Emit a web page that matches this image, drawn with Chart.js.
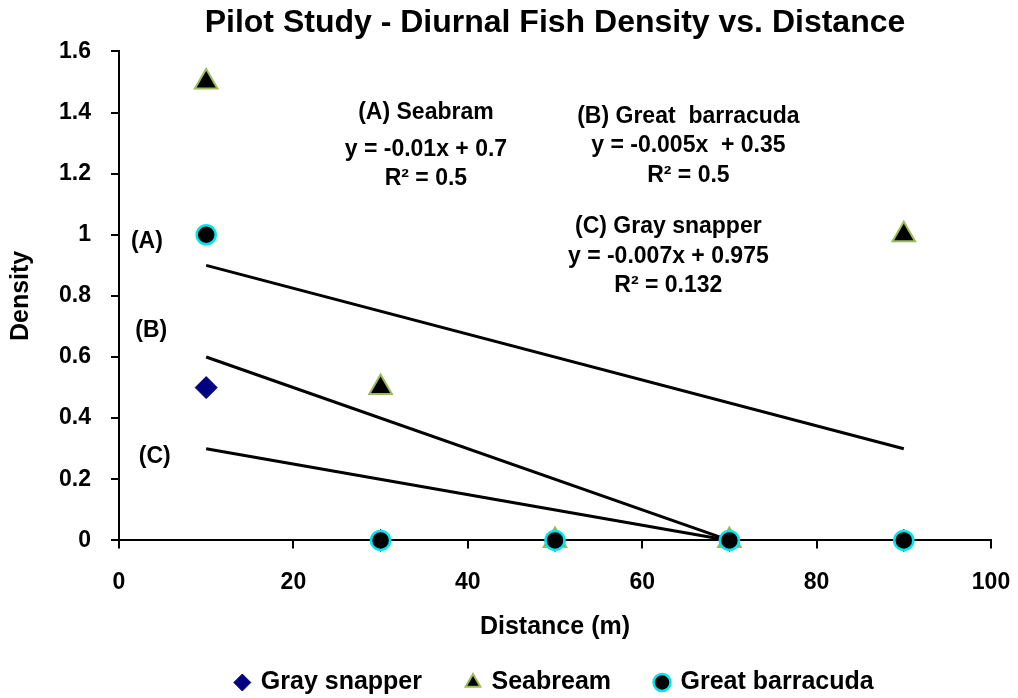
<!DOCTYPE html>
<html>
<head>
<meta charset="utf-8">
<script src="https://cdn.jsdelivr.net/npm/chart.js@4"></script>
<style>
  html, body { margin: 0; padding: 0; background: #fff; }
  #wrap { width: 1018px; height: 698px; }
</style>
</head>
<body>
<div id="wrap"><canvas id="myChart"></canvas></div>
<script>
// series values
const distances = [10, 30, 50, 70, 90];
const graySnapper = [0.5, 0, 0, 0, 0];
const seabream = [1.5, 0.5, 0, 0, 1.0];
const greatBarracuda = [1.0, 0, 0, 0, 0];

// trend lines, as drawn (start and end points)
const trendA = [{x: 10, y: 0.9}, {x: 90, y: 0.3}];
const trendB = [{x: 10, y: 0.6}, {x: 70, y: 0}];
const trendC = [{x: 10, y: 0.3}, {x: 70, y: 0}];

const xTicks = [0, 20, 40, 60, 80, 100];
const yTicks = [0, 0.2, 0.4, 0.6, 0.8, 1, 1.2, 1.4, 1.6];

// text notes placed in data units
const notes = [
    {x: 35.2, y: 1.398, text: "(A) Seabram"},
    {x: 35.2, y: 1.28, text: "y = -0.01x + 0.7"},
    {x: 35.2, y: 1.185, text: "R² = 0.5"},
    {x: 65.3, y: 1.388, text: "(B) Great  barracuda"},
    {x: 65.3, y: 1.29, text: "y = -0.005x  + 0.35"},
    {x: 65.3, y: 1.195, text: "R² = 0.5"},
    {x: 63.0, y: 1.025, text: "(C) Gray snapper"},
    {x: 63.0, y: 0.927, text: "y = -0.007x + 0.975"},
    {x: 63.0, y: 0.833, text: "R² = 0.132"},
    {x: 3.2, y: 0.976, text: "(A)"},
    {x: 3.7, y: 0.686, text: "(B)"},
    {x: 4.1, y: 0.274, text: "(C)"}
];

function toPoints(xs, ys) {
    return xs.map((x, i) => ({x: x, y: ys[i]}));
}

const FONT = "'Liberation Sans', Arial, sans-serif";
const LEGEND_GAP = 45;

const notesPlugin = {
    id: 'notes',
    afterLayout(chart) {
        // center title and legend over the plot area
        const a = chart.chartArea;
        if (chart.titleBlock) { chart.titleBlock.left = a.left; chart.titleBlock.right = a.right; }
        if (chart.legend) {
            chart.legend.left = a.left;
            chart.legend.right = a.right;
            // legend padding is only wanted between items, not above them
            chart.legend.top -= LEGEND_GAP - 13;
        }
    },
    afterDatasetsDraw(chart) {
        const ctx = chart.ctx;
        const xs = chart.scales.x, ys = chart.scales.y;
        ctx.save();
        ctx.font = "bold 23px " + FONT;
        ctx.fillStyle = '#000';
        ctx.textAlign = 'center';
        ctx.textBaseline = 'middle';
        notes.forEach(n => {
            ctx.fillText(n.text, xs.getPixelForValue(n.x), ys.getPixelForValue(n.y));
        });
        ctx.restore();
    }
};

const trendStyle = {
    type: 'line',
    showLine: true,
    borderColor: '#000',
    borderWidth: 3,
    pointRadius: 0,
    fill: false,
    order: 3,
    clip: false
};

var ctx = document.getElementById('myChart').getContext('2d');
var chart = new Chart(ctx, {
    type: 'scatter',
    data: {
        datasets: [{
            label: 'Gray snapper',
            data: toPoints(distances, graySnapper),
            pointStyle: 'rectRot',
            pointRadius: 11,
            backgroundColor: '#000080',
            borderColor: '#000080',
            borderWidth: 1,
            order: 2,
            clip: false
        }, {
            label: 'Seabream',
            data: toPoints(distances, seabream),
            pointStyle: 'triangle',
            pointRadius: 13,
            backgroundColor: '#000',
            borderColor: '#9BBB59',
            borderWidth: 2,
            order: 1,
            clip: false
        }, {
            label: 'Great barracuda',
            data: toPoints(distances, greatBarracuda),
            pointStyle: 'circle',
            pointRadius: 9.5,
            backgroundColor: '#000',
            borderColor: '#00E5EE',
            borderWidth: 2.5,
            order: 0,
            clip: false
        },
        Object.assign({label: 'trendA', data: trendA}, trendStyle),
        Object.assign({label: 'trendB', data: trendB}, trendStyle),
        Object.assign({label: 'trendC', data: trendC}, trendStyle)]
    },
    options: {
        responsive: true,
        maintainAspectRatio: false,
        animation: false,
        layout: { padding: { left: 6, right: 27, top: 1, bottom: 1 } },
        plugins: {
            title: {
                display: true,
                text: 'Pilot Study - Diurnal Fish Density vs. Distance',
                color: '#000',
                font: { family: FONT, size: 32, weight: 'bold' },
                padding: { top: 3, bottom: 9 }
            },
            legend: {
                position: 'bottom',
                maxHeight: 40,
                labels: {
                    filter: item => item.datasetIndex < 3,
                    sort: (a, b) => a.datasetIndex - b.datasetIndex,
                    usePointStyle: true,
                    boxWidth: 12,
                    boxHeight: 12,
                    padding: LEGEND_GAP,
                    color: '#000',
                    font: { family: FONT, size: 25, weight: 'bold' }
                }
            },
            tooltip: { enabled: false }
        },
        scales: {
            x: {
                type: 'linear',
                min: 0,
                max: 100,
                afterBuildTicks: axis => { axis.ticks = xTicks.map(v => ({value: v})); },
                afterFit: axis => { axis.paddingRight = 20; },
                ticks: { color: '#000', padding: 20, font: { family: FONT, size: 23, weight: 'bold' } },
                grid: { drawOnChartArea: false, drawTicks: true, tickLength: 8, color: '#000', lineWidth: 2 },
                border: { color: '#000', width: 2 },
                title: { display: true, text: 'Distance (m)', color: '#000', padding: { top: -4, bottom: 15 },
                         font: { family: FONT, size: 25, weight: 'bold' } }
            },
            y: {
                type: 'linear',
                min: 0,
                max: 1.6,
                afterBuildTicks: axis => { axis.ticks = yTicks.map(v => ({value: v})); },
                ticks: { color: '#000', padding: 20, font: { family: FONT, size: 23, weight: 'bold' },
                         callback: v => String(v) },
                grid: { drawOnChartArea: false, drawTicks: true, tickLength: 8, color: '#000', lineWidth: 2 },
                border: { color: '#000', width: 2 },
                title: { display: true, text: 'Density', color: '#000', padding: { top: 0, bottom: 3 },
                         font: { family: FONT, size: 25, weight: 'bold' } }
            }
        }
    },
    plugins: [notesPlugin]
});
</script>
</body>
</html>
